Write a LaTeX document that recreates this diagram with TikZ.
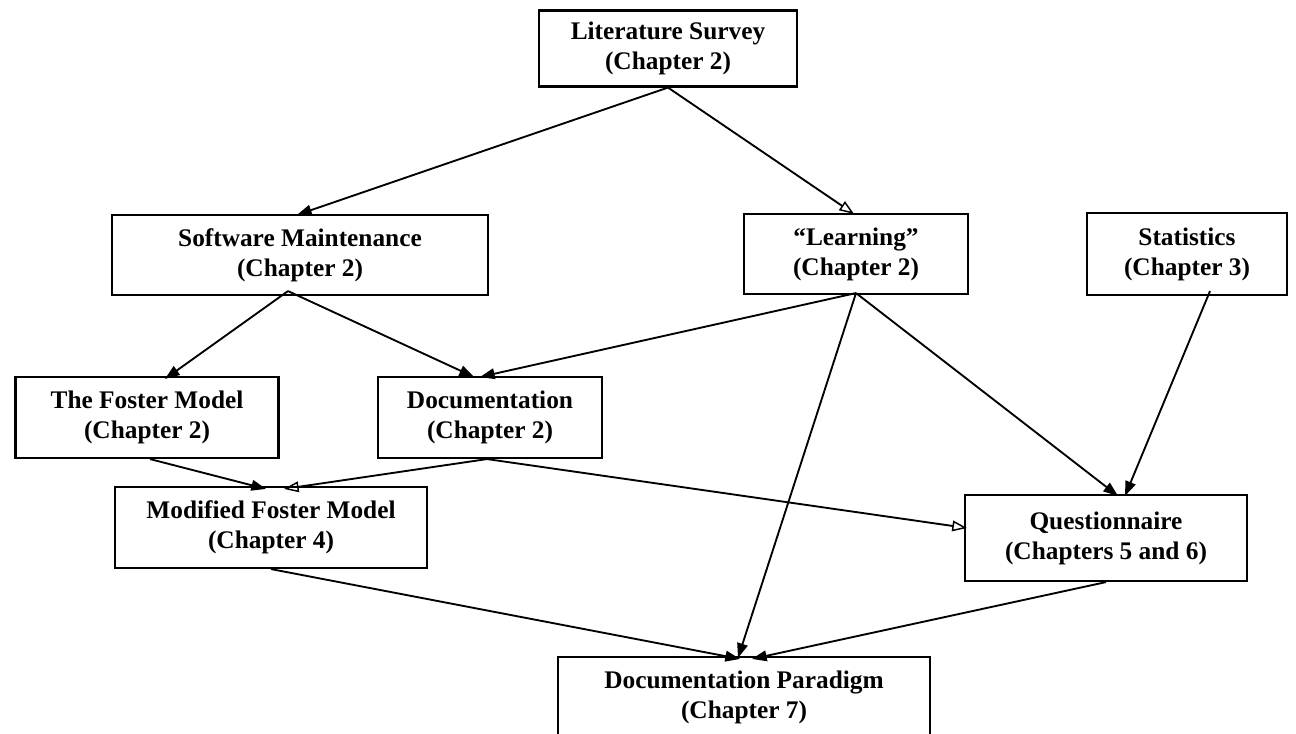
\documentclass[tikz,border=0pt]{standalone}
\usepackage{fontspec}
\setmainfont{Liberation Serif}
\usetikzlibrary{arrows.meta,calc}
\tikzset{
  box/.style={draw=black,line width=1.6pt,fill=white,align=center,inner sep=0pt,
    font=\bfseries\fontsize{19}{22.5}\selectfont},
  conn/.style={line width=1.4pt,-{Triangle[length=11pt,width=8pt]}},
  oconn/.style={line width=1.4pt,-{Triangle[open,length=11pt,width=8pt,line width=1.1pt]}}
}
\begin{document}
\begin{tikzpicture}[x=0.75pt,y=-0.75pt]
\useasboundingbox (0,0) rectangle (1296,733);
\clip (0,0) rectangle (1296,733);
\fill[white] (0,0) rectangle (1296,733);
\node[box,minimum width=258*0.75pt,minimum height=76*0.75pt] (lit) at (668,48.5) {Literature Survey\\(Chapter 2)};
\node[box,minimum width=376*0.75pt,minimum height=80*0.75pt] (sm) at (300,255) {Software Maintenance\\(Chapter 2)};
\node[box,minimum width=224*0.75pt,minimum height=80*0.75pt] (learn) at (856,254) {“Learning”\\(Chapter 2)};
\node[box,minimum width=200*0.75pt,minimum height=82*0.75pt] (stat) at (1187,254) {Statistics\\(Chapter 3)};
\node[box,minimum width=263*0.75pt,minimum height=81*0.75pt] (foster) at (147,417.5) {The Foster Model\\(Chapter 2)};
\node[box,minimum width=224*0.75pt,minimum height=81*0.75pt] (doc) at (490,417.5) {Documentation\\(Chapter 2)};
\node[box,minimum width=312*0.75pt,minimum height=81*0.75pt] (modf) at (271,527.5) {Modified Foster Model\\(Chapter 4)};
\node[box,minimum width=282*0.75pt,minimum height=86*0.75pt] (quest) at (1106,538) {Questionnaire\\(Chapters 5 and 6)};
\node[box,minimum width=372*0.75pt,minimum height=80*0.75pt] (docp) at (744,697) {Documentation Paradigm\\(Chapter 7)};

\draw[conn] (lit.south) -- ($(sm.north)+(-3,1)$);
\draw[oconn] (lit.south) -- ($(learn.north)+(-2,1)$);
\draw[conn] ($(sm.south)+(-12,-5)$) -- ($(foster.north)+(18,3)$);
\draw[conn] ($(sm.south)+(-12,-5)$) -- ($(doc.north)+(-16,1)$);
\draw[conn] ($(learn.south)+(0,-2)$) -- ($(doc.north)+(-10,1)$);
\draw[conn] ($(learn.south)+(0,-2)$) -- ($(docp.north)+(-6,2)$);
\draw[conn] ($(learn.south)+(0,-2)$) -- ($(quest.north)+(12,2)$);
\draw[conn] ($(stat.south)+(23,-5)$) -- ($(quest.north)+(19,2)$);
\draw[conn] ($(foster.south)+(3,0)$) -- ($(modf.north)+(-5,3)$);
\draw[oconn] ($(doc.south)+(-3,0)$) -- ($(modf.north)+(13,3)$);
\draw[oconn] ($(doc.south)+(-3,0)$) -- ($(quest.west)+(3,-10)$);
\draw[conn] (modf.south) -- ($(docp.north)+(-4,3)$);
\draw[conn] (quest.south) -- ($(docp.north)+(8,3)$);
\end{tikzpicture}
\end{document}
